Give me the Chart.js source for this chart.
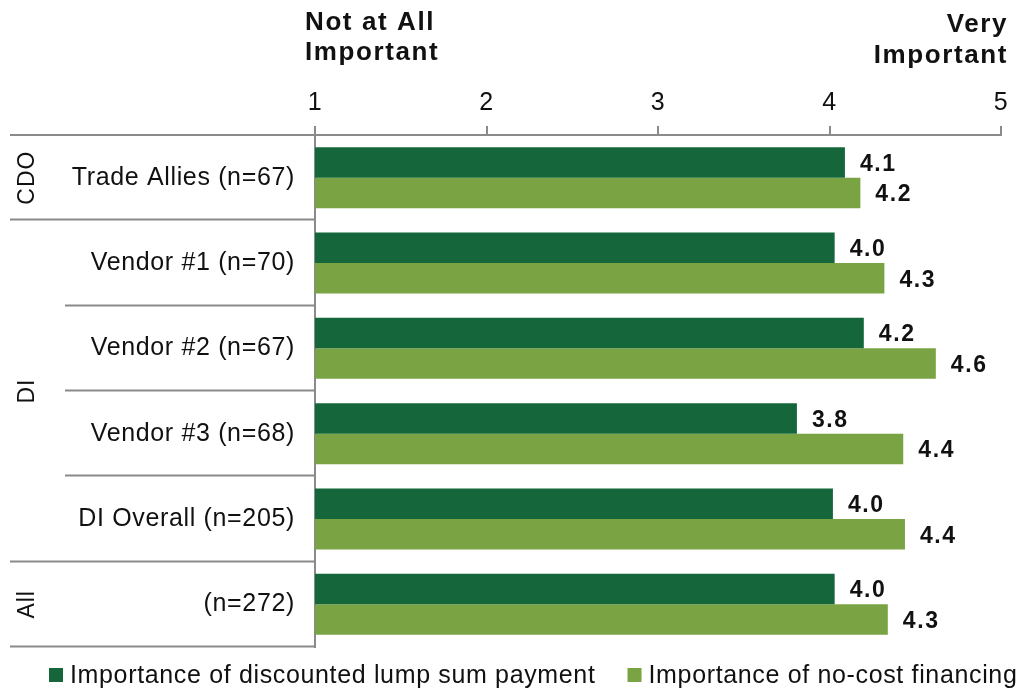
<!DOCTYPE html>
<html>
<head>
<meta charset="utf-8">
<title>Importance of payment options</title>
<script src="https://cdn.jsdelivr.net/npm/chart.js@4.4.1/dist/chart.umd.min.js"></script>
<style>
  html, body { margin: 0; padding: 0; background: #ffffff; }
  #wrap { width: 1021px; height: 689px; }
</style>
</head>
<body>
<div id="wrap"><canvas id="chart" width="1021" height="689"></canvas></div>
<script>
// Respondent segments (bottom label row of each group)
const categories = [
  'Trade Allies (n=67)',
  'Vendor #1 (n=70)',
  'Vendor #2 (n=67)',
  'Vendor #3 (n=68)',
  'DI Overall (n=205)',
  '(n=272)'
];

// Mean ratings on a 1-5 scale
const lumpSum = [4.09, 4.03, 4.20, 3.81, 4.02, 4.03];
const noCostFinancing = [4.18, 4.32, 4.62, 4.43, 4.44, 4.34];

const seriesNames = [
  'Importance of discounted lump sum payment',
  'Importance of no-cost financing'
];

// Program groups: label and the first/last category index they cover
const groupLabels = ['CDO', 'DI', 'All'];
const groupFirst = [0, 1, 5];
const groupLast = [0, 4, 5];

// Rating scale
const scaleMin = 1;
const scaleMax = 5;
const lowEndLabel = ['Not at All', 'Important'];
const highEndLabel = ['Very', 'Important'];

const DARK = '#15673B';
const LIGHT = '#7AA443';
const RULE = '#8a8a8a';
const INK = '#111111';
const FONT = '"Liberation Sans", Arial, sans-serif';

const decor = {
  id: 'decor',
  beforeDraw(chart) {
    chart.ctx.letterSpacing = '0.65px';
  },
  afterDraw(chart) {
    const ctx = chart.ctx;
    const area = chart.chartArea;
    const n = categories.length;
    const step = (area.bottom - area.top) / n;
    const boundary = i => area.top + step * i;

    ctx.save();
    // axis line extended over the label column, separators and bottom rule
    ctx.strokeStyle = RULE;
    ctx.lineWidth = 2;
    ctx.beginPath();
    ctx.moveTo(10, area.top);
    ctx.lineTo(area.left, area.top);
    for (let i = 1; i <= n; i++) {
      const endsGroup = groupLast.includes(i - 1);
      const x0 = endsGroup ? 10 : 65;
      const yy = Math.round(boundary(i)) - 0.5;
      ctx.moveTo(x0, yy);
      ctx.lineTo(area.left, yy);
    }
    ctx.stroke();

    // rotated group labels
    ctx.fillStyle = INK;
    ctx.font = '23px ' + FONT;
    ctx.letterSpacing = '1px';
    ctx.textAlign = 'center';
    ctx.textBaseline = 'middle';
    groupLabels.forEach((g, k) => {
      const cy = (boundary(groupFirst[k]) + boundary(groupLast[k] + 1)) / 2;
      ctx.save();
      ctx.translate(28, cy);
      ctx.rotate(-Math.PI / 2);
      ctx.fillText(g, 0, 0);
      ctx.restore();
    });

    // value labels at the end of each bar
    ctx.font = 'bold 23px ' + FONT;
    ctx.letterSpacing = '1.6px';
    ctx.textAlign = 'left';
    chart.data.datasets.forEach((ds, di) => {
      const meta = chart.getDatasetMeta(di);
      meta.data.forEach((bar, i) => {
        ctx.fillText(ds.data[i].toFixed(1), bar.x + 15, bar.y + 2);
      });
    });

    // scale end captions
    ctx.font = 'bold 26px ' + FONT;
    ctx.letterSpacing = '1.6px';
    ctx.textBaseline = 'alphabetic';
    ctx.textAlign = 'left';
    ctx.fillText(lowEndLabel[0], 305, 30);
    ctx.fillText(lowEndLabel[1], 305, 60);
    ctx.textAlign = 'right';
    ctx.fillText(highEndLabel[0], 1008, 32);
    ctx.fillText(highEndLabel[1], 1008, 63);

    // legend
    ctx.font = '25px ' + FONT;
    ctx.letterSpacing = '0.65px';
    ctx.textAlign = 'left';
    ctx.textBaseline = 'middle';
    let lx = 49;
    const ly = 675;
    chart.data.datasets.forEach(ds => {
      ctx.fillStyle = ds.backgroundColor;
      ctx.fillRect(lx, ly - 7, 14, 14);
      ctx.fillStyle = INK;
      ctx.fillText(ds.label, lx + 21, ly + 1);
      lx += 21 + ctx.measureText(ds.label).width + 32;
    });
    ctx.restore();
  }
};

new Chart(document.getElementById('chart'), {
  type: 'bar',
  data: {
    labels: categories,
    datasets: [
      {
        label: seriesNames[0],
        data: lumpSum,
        backgroundColor: DARK,
        categoryPercentage: 0.715,
        barPercentage: 1
      },
      {
        label: seriesNames[1],
        data: noCostFinancing,
        backgroundColor: LIGHT,
        categoryPercentage: 0.715,
        barPercentage: 1
      }
    ]
  },
  options: {
    indexAxis: 'y',
    responsive: false,
    animation: false,
    devicePixelRatio: 1,
    layout: { padding: { left: 10, right: 20, top: 0, bottom: 42 } },
    plugins: {
      legend: { display: false },
      tooltip: { enabled: false }
    },
    scales: {
      x: {
        position: 'top',
        min: scaleMin,
        max: scaleMax,
        ticks: {
          stepSize: 1,
          color: INK,
          padding: 8,
          font: { family: FONT, size: 25 }
        },
        grid: {
          drawOnChartArea: false,
          tickLength: 9,
          color: RULE,
          lineWidth: 2
        },
        border: { color: RULE, width: 2 },
        afterFit(scale) { scale.height = 135; }
      },
      y: {
        ticks: {
          color: INK,
          padding: 20,
          font: { family: FONT, size: 25 }
        },
        grid: { display: false, drawTicks: false },
        border: { color: RULE, width: 2 },
        afterFit(scale) { scale.width = 305; }
      }
    }
  },
  plugins: [decor]
});
</script>
</body>
</html>
